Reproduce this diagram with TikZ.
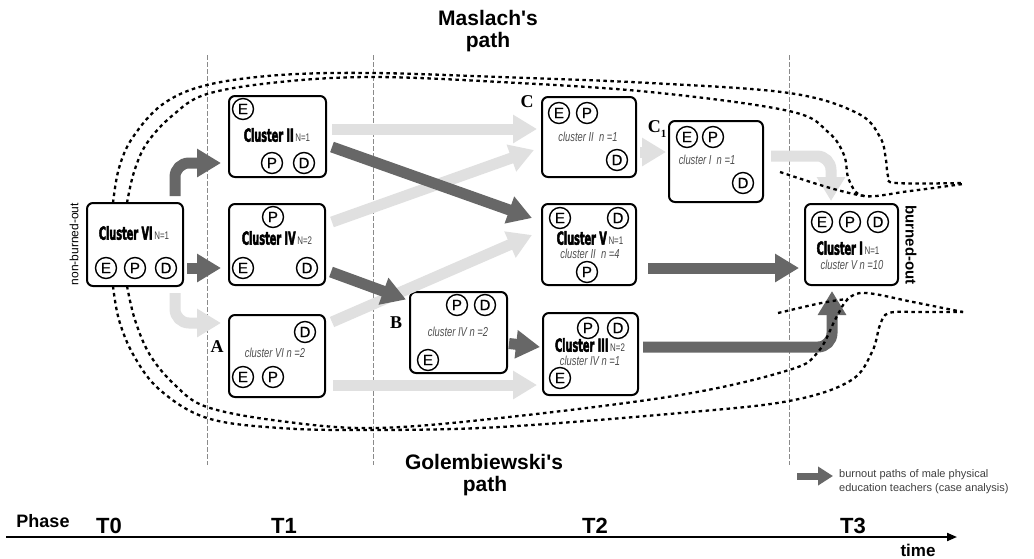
\documentclass[tikz,border=0pt]{standalone}
\usepackage{fontspec}
\setmainfont{Liberation Sans}
\newfontfamily\clfont{DejaVu Sans}[FakeStretch=0.54, FakeBold=2.5]
\newfontfamily\nfont{Liberation Sans}[FakeStretch=0.72]
\newfontfamily\circfont{Liberation Sans}[FakeBold=0.8]
\newfontfamily\titlefont{Liberation Sans}[Ligatures=TeXOff]
\newfontfamily\lettfont{Liberation Serif}
\usetikzlibrary{arrows.meta,calc}
\definecolor{darkarr}{HTML}{676767}
\definecolor{lightarr}{HTML}{E0E0E0}
\definecolor{vlinecol}{HTML}{8A8A8A}
\definecolor{subgray}{HTML}{505050}
\definecolor{ngray}{HTML}{404040}
\newcommand\clab[2]{{\clfont\bfseries\fontsize{18}{18}\selectfont Cluster #1}\,{\nfont\fontsize{11}{11}\selectfont\color{ngray}N=#2}}
\newcommand\sublab[1]{{\nfont\itshape\fontsize{13}{13}\selectfont\color{subgray}#1}}
\tikzset{
  cbox/.style={draw, line width=2pt, rounded corners=6pt, inner sep=0pt},
  circ/.style={draw, circle, line width=1.4pt, minimum size=21pt, inner sep=0pt, font=\circfont\fontsize{15}{15}\selectfont},
  txt/.style={inner sep=0pt},
  darr/.style={draw=darkarr, line width=11pt, -{Triangle[width=27pt,length=24pt]}},
  larr/.style={draw=lightarr, line width=11pt, -{Triangle[width=27pt,length=24pt]}},
  vl/.style={draw=vlinecol, line width=0.8pt, dash pattern=on 5pt off 2pt},
  dotl/.style={draw=black, line width=2.3pt, dash pattern=on 3.5pt off 3.5pt},
  lett/.style={inner sep=0pt, font=\lettfont\bfseries\fontsize{18}{18}\selectfont},
  ttl/.style={inner sep=0pt, font=\titlefont\bfseries\fontsize{21}{21}\selectfont},
}
\begin{document}
\begin{tikzpicture}[x=1pt,y=-1pt]
\useasboundingbox[fill=white] (0,0) rectangle (1034,558);

% vertical phase separators
\draw[vl] (207,55) -- (207,465);
\draw[vl] (373,55) -- (373,465);
\draw[vl] (789,55) -- (789,465);

% boxes
\node[cbox, minimum width=96pt, minimum height=83pt] (c6) at (135,244.5) {};
\node[cbox, minimum width=97pt, minimum height=81pt] (c2) at (277.5,136.5) {};
\node[cbox, minimum width=96pt, minimum height=81pt] (c4) at (277,244.5) {};
\node[cbox, minimum width=96pt, minimum height=82pt] (cA) at (277,356) {};
\node[cbox, minimum width=97pt, minimum height=81pt] (cB) at (458.5,332.5) {};
\node[cbox, minimum width=94pt, minimum height=80pt] (cC) at (589,137) {};
\node[cbox, minimum width=94pt, minimum height=81pt] (cC1) at (716,161.5) {};
\node[cbox, minimum width=94pt, minimum height=81pt] (c5) at (589,244.5) {};
\node[cbox, minimum width=95pt, minimum height=82pt] (c3) at (590.5,354) {};
\node[cbox, minimum width=93pt, minimum height=81pt] (c1) at (851.5,244.5) {};

% light arrows
\draw[larr, rounded corners=14pt] ($(c6.south east)+(-9,6)$) |- ($(cA.west)+(-7,-33)$);
\draw[larr] ($(c2.east)+(5,-7.5)$) -- ($(cC.west)+(-4,-8)$);
\draw[larr] ($(c4.east)+(6,-22.5)$) -- ($(cC.west)+(-7,13)$);
\draw[larr] ($(cA.east)+(6,-34)$) -- ($(c5.west)+(-9,-9.5)$);
\draw[larr] ($(cA.east)+(7,29)$) -- ($(c3.west)+(-5,31)$);
\draw[larr] ($(cC.east)+(3,15)$) -- ($(cC1.west)+(-2,-9.5)$);
\draw[larr, rounded corners=14pt] ($(cC1.east)+(7,-5.5)$) -| ($(c1.north)+(-20.5,-2)$);

% dark arrows
\draw[darr, rounded corners=14pt] ($(c6.north east)+(-9,-6)$) |- ($(c2.west)+(-7,26.5)$);
\draw[darr] ($(c6.east)+(3,23.5)$) -- ($(c4.west)+(-7,23.5)$);
\draw[darr] ($(c2.east)+(5,10.5)$) -- ($(c5.west)+(-9,-26.5)$);
\draw[darr] ($(c4.east)+(5,27.5)$) -- ($(cB.west)+(-3,-33)$);
\draw[darr] ($(cB.east)+(1,11)$) -- ($(c3.west)+(-2,-7)$);
\draw[darr] ($(c5.east)+(11,23.5)$) -- ($(c1.west)+(-5,23.5)$);
\draw[darr, rounded corners=14pt] ($(c3.east)+(4,-7)$) -| ($(c1.south)+(-19.5,5)$);

% Maslach's path (dotted)
\draw[dotl] plot[smooth, tension=0.6] coordinates {(113,203) (119,168) (133,137) (163,104) (207,85) (280,75) (373,73) (500,77) (650,83) (789,93) (857,113) (880,137) (886,160) (888,176) (896,183) (963,183)};
\draw[dotl] plot[smooth, tension=0.6] coordinates {(127,203) (134,172) (147,143) (173,115) (207,94) (280,82) (373,77) (500,82) (650,92) (789,111) (828,132) (844,155) (849,180) (864,196) (910,191) (963,184)};
\draw[dotl] (780,172) .. controls (810,182) and (840,192) .. (864,196);

% Golembiewski's path (dotted)
\draw[dotl] plot[smooth, tension=0.6] coordinates {(113,286) (119,320) (134,356) (160,390) (207,418) (280,428) (373,430) (500,427) (680,413) (789,401) (850,381) (872,352) (880,325) (889,313) (920,312) (963,312)};
\draw[dotl] plot[smooth, tension=0.6] coordinates {(127,286) (135,320) (150,355) (175,385) (207,407) (280,421) (373,428) (500,418) (680,395) (789,370) (818,352) (836,318) (848,299) (866,293) (913,302) (963,312)};
\draw[dotl] (778,313) .. controls (800,308) and (825,301) .. (848,299);

% box contents
\node[txt] (t6) at (134,233) {\clab{VI}{1}};
\node[circ] (e6) at (106,268) {E};
\node[circ] (p6) at (135,268) {P};
\node[circ] (d6) at (166,268) {D};

\node[circ] (e2) at (243,109) {E};
\node[txt] (t2) at (277,135) {\clab{II}{1}};
\node[circ] (p2) at (272,163) {P};
\node[circ] (d2) at (304,163) {D};

\node[circ] (p4) at (273,217) {P};
\node[txt] (t4) at (277,238) {\clab{IV}{2}};
\node[circ] (e4) at (243,268) {E};
\node[circ] (d4) at (307,268) {D};

\node[circ] (dA) at (305,332) {D};
\node[txt] (sA) at (275,353) {\sublab{cluster VI n =2}};
\node[circ] (eA) at (243,377) {E};
\node[circ] (pA) at (273,377) {P};

\node[circ] (pB) at (457,305) {P};
\node[circ] (dB) at (485,305) {D};
\node[txt] (sB) at (458,332) {\sublab{cluster IV n =2}};
\node[circ] (eB) at (428,360) {E};

\node[circ] (eC) at (559,113) {E};
\node[circ] (pC) at (587,113) {P};
\node[txt] (sC) at (588,137) {\sublab{cluster II\ \ n =1}};
\node[circ] (dC) at (617,160) {D};

\node[circ] (eC1) at (687,137) {E};
\node[circ] (pC1) at (713,137) {P};
\node[txt] (sC1) at (707,160) {\sublab{cluster I\ \ n =1}};
\node[circ] (dC1) at (743,183) {D};

\node[circ] (e5) at (560,218) {E};
\node[circ] (d5) at (618,218) {D};
\node[txt] (t5) at (590,238) {\clab{V}{1}};
\node[txt] (s5) at (590,254) {\sublab{cluster II\ \ n =4}};
\node[circ] (p5) at (587,272) {P};

\node[circ] (p3) at (588,328) {P};
\node[circ] (d3) at (618,328) {D};
\node[txt] (t3) at (590,345) {\clab{III}{2}};
\node[txt] (s3) at (590,361) {\sublab{cluster IV n =1}};
\node[circ] (e3) at (560,378) {E};

\node[circ] (e1) at (822,222) {E};
\node[circ] (p1) at (850,222) {P};
\node[circ] (d1) at (878,222) {D};
\node[txt] (t1) at (848,248) {\clab{I}{1}};
\node[txt] (s1) at (852,265) {\sublab{cluster V n =10}};

% letters
\node[lett] (lA) at (217,347) {A};
\node[lett] (lB) at (396,323) {B};
\node[lett] (lC) at (527,102) {C};
\node[lett] (lC1) at (657,129) {C\raisebox{-0.3em}{\fontsize{11}{11}\selectfont 1}};

% side labels
\node[txt, rotate=90, font=\fontsize{12}{12}\selectfont] (nbo) at (74,244) {non-burned-out};
\node[txt, rotate=-90, font=\bfseries\fontsize{15}{15}\selectfont] (bo) at (911,245) {burned-out};

% path titles
\node[ttl] (m1) at (488,18) {Maslach's};
\node[ttl] (m2) at (488,42) {path};
\node[ttl] (g1) at (484,462) {Golembiewski's};
\node[ttl] (g2) at (485,486) {path};

% legend
\coordinate (lgs) at (797,476);
\coordinate (lge) at (833,476);
\draw[draw=darkarr, line width=7pt, -{Triangle[width=18pt,length=15pt]}] (lgs) -- (lge);
\node[txt, anchor=west, font=\fontsize{11}{11}\selectfont, text=ngray] (lg1) at (839,475) {burnout paths of male physical};
\node[txt, anchor=west, font=\fontsize{11}{11}\selectfont, text=ngray] (lg2) at (839,489) {education teachers (case analysis)};

% time axis
\coordinate (axs) at (6,537);
\coordinate (axe) at (957,537);
\draw[line width=2pt, -{Triangle[width=8pt,length=10pt]}] (axs) -- (axe);
\node[txt, font=\bfseries\fontsize{18}{18}\selectfont] (ph) at (43,521) {Phase};
\node[txt, font=\bfseries\fontsize{22}{22}\selectfont] (T0) at (109,526) {T0};
\node[txt, font=\bfseries\fontsize{22}{22}\selectfont] (T1) at (284,526) {T1};
\node[txt, font=\bfseries\fontsize{22}{22}\selectfont] (T2) at (595,526) {T2};
\node[txt, font=\bfseries\fontsize{22}{22}\selectfont] (T3) at (853,526) {T3};
\node[txt, font=\bfseries\fontsize{17}{17}\selectfont] (tm) at (918,550) {time};
\end{tikzpicture}
\end{document}
